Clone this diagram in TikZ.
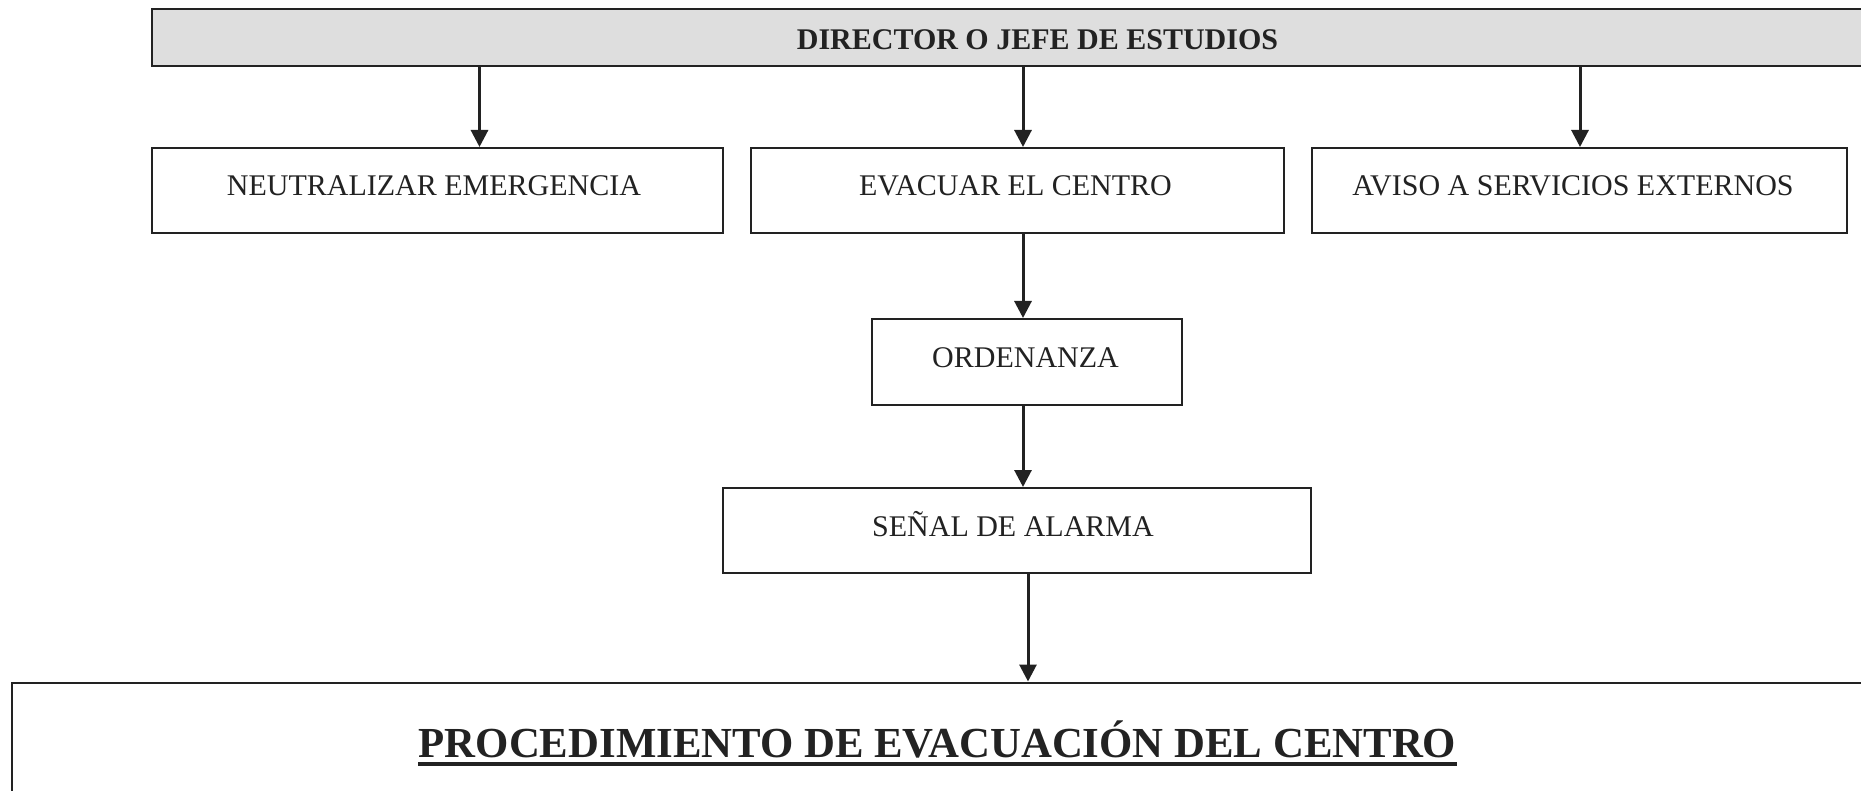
\documentclass[tikz,border=0pt]{standalone}
\usepackage{fontspec}
\setmainfont{Liberation Serif}
\usetikzlibrary{arrows.meta}
\definecolor{ink}{HTML}{222222}
\definecolor{headfill}{HTML}{DEDEDE}
\tikzset{
  box/.style={draw=ink, line width=2pt, rectangle, inner sep=0pt, fill=white},
  headbox/.style={box, fill=headfill},
  lbl/.style={inner sep=0pt, anchor=base, text=ink, font=\fontsize{30}{36}\selectfont},
  headlbl/.style={lbl, font=\fontsize{30}{36}\selectfont\bfseries},
  titlelbl/.style={lbl, font=\fontsize{42.8}{52}\selectfont\bfseries},
  arr/.style={draw=ink, line width=3pt, -{Triangle[width=17pt,length=17pt]}}
}
\begin{document}
\begin{tikzpicture}[x=1pt,y=-1pt]
\clip (0,0) rectangle (1861,791);
\fill[white] (0,0) rectangle (1861,791);
% boxes
\node[headbox, minimum width=1771pt, minimum height=57pt] (dir) at (1037.5,38) {};
\node[box, minimum width=571pt, minimum height=85pt] (neut) at (437.5,190.5) {};
\node[box, minimum width=533pt, minimum height=85pt] (evac) at (1017.5,190.5) {};
\node[box, minimum width=535pt, minimum height=85pt] (aviso) at (1579,190.5) {};
\node[box, minimum width=310pt, minimum height=86pt] (ord) at (1027,362) {};
\node[box, minimum width=588pt, minimum height=85pt] (senal) at (1017,530.5) {};
\node[box, minimum width=1851pt, minimum height=167pt] (bot) at (937.5,766) {};
% texts
\node[headlbl] (tdir) at (1037.5,49.5) {DIRECTOR O JEFE DE ESTUDIOS};
\node[lbl] (tneut) at (434,195.5) {NEUTRALIZAR EMERGENCIA};
\node[lbl] (tevac) at (1015.5,195.5) {EVACUAR EL CENTRO};
\node[lbl] (taviso) at (1573,195.5) {AVISO A SERVICIOS EXTERNOS};
\node[lbl] (tord) at (1025.5,367.5) {ORDENANZA};
\node[lbl] (tsenal) at (1013,536.5) {SEÑAL DE ALARMA};
\node[titlelbl] (title) at (937.5,757) {PROCEDIMIENTO DE EVACUACIÓN DEL CENTRO};
\draw[ink, line width=4pt] ([yshift=-7pt]title.base west) -- ([yshift=-7pt]title.base east);
% connectors
\coordinate (a1) at ([xshift=42pt]neut.north);
\coordinate (a2) at ([xshift=5.5pt]evac.north);
\coordinate (a3) at ([xshift=1pt]aviso.north);
\coordinate (a4) at ([xshift=-4pt]ord.north);
\coordinate (a5) at ([xshift=6pt]senal.north);
\coordinate (a6) at ([xshift=90.5pt]bot.north);
\draw[arr] (a1 |- dir.south) -- (a1);
\draw[arr] (a2 |- dir.south) -- (a2);
\draw[arr] (a3 |- dir.south) -- (a3);
\draw[arr] (a4 |- evac.south) -- (a4);
\draw[arr] (a5 |- ord.south) -- (a5);
\draw[arr] (a6 |- senal.south) -- (a6);
\end{tikzpicture}
\end{document}
